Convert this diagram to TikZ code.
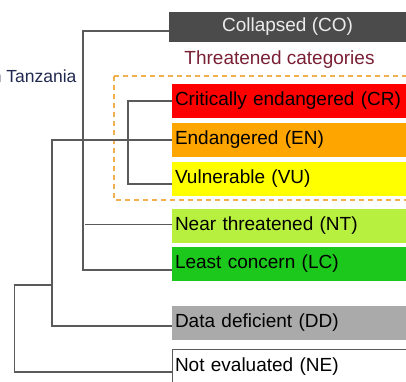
\documentclass[tikz,border=0pt]{standalone}
\usepackage{fontspec}
\setmainfont{Liberation Sans}
\usepackage{xcolor}
\usetikzlibrary{positioning}

\definecolor{cogray}{HTML}{4B4B4B}
\definecolor{crred}{HTML}{FF0000}
\definecolor{enorange}{HTML}{FFA500}
\definecolor{vuyellow}{HTML}{FFFF00}
\definecolor{ntgreen}{HTML}{B8F040}
\definecolor{lcgreen}{HTML}{1CC81C}
\definecolor{ddgray}{HTML}{AAAAAA}
\definecolor{linegray}{HTML}{5A5A5A}
\definecolor{dashorange}{HTML}{F0B050}
\definecolor{threatred}{HTML}{7A2035}
\definecolor{regionblue}{HTML}{202850}

\begin{document}
\begin{tikzpicture}[x=1pt, y=1pt, node distance=39pt]
    \tikzstyle{category} = [rectangle, text width=234pt, inner xsep=3pt, inner ysep=0pt, minimum height=34pt, align=left, font=\fontsize{19pt}{22pt}\selectfont]
    \tikzstyle{collapsed} = [rectangle, fill=cogray, text=black!8, minimum width=237pt, minimum height=30pt, inner sep=0pt, font=\fontsize{19pt}{22pt}\selectfont]
    \tikzstyle{link} = [draw=linegray, line width=1.5pt]
    \useasboundingbox (0,0) rectangle (406,-381);

    % Threatened group frame
    \draw [dashorange, line width=1.4pt, dash pattern=on 5pt off 4pt] (114,-76) rectangle (420,-200);

    % Collapsed and labels
    \node [collapsed] (co) at (287.5,-27) {Collapsed (CO)};
    \node [text=threatred, font=\fontsize{19pt}{22pt}\selectfont] (threat) at (279.5,-60) {Threatened categories};
    \node [anchor=east, text=regionblue, font=\fontsize{17.5pt}{21pt}\selectfont] (region) at (80,-76) {in Tanzania};

    % Red List categories - Vertical
    \node [category, fill=crred] (cr) at (292,-101) {Critically endangered (CR)};
    \node [category, fill=enorange, below of=cr] (en) {Endangered (EN)};
    \node [category, fill=vuyellow, below of=en, node distance=38.5pt] (vu) {Vulnerable (VU)};
    \node [category, fill=ntgreen, below of=vu, node distance=47pt] (nt) {Near threatened (NT)};
    \node [category, fill=lcgreen, below of=nt, node distance=38.5pt] (lc) {Least concern (LC)};
    \node [category, fill=ddgray, below of=lc, node distance=58.5pt] (dd) {Data deficient (DD)};
    \node [category, draw=linegray, line width=1pt, fill=white, below of=dd, node distance=44pt] (ne) {Not evaluated (NE)};

    % Connections
    \coordinate (split) at (52,-285);
    \draw [link] ([yshift=-4pt]co.west) -- ++(-86,0) |- ([yshift=-6pt]lc.west);
    \draw [link] ([yshift=1pt]nt.west) -- ++(-87,0);
    \draw [link] (cr.west) -- ++(-44,0) |- ([yshift=-5.5pt]vu.west);
    \draw [link] (en.west) -- ++(-120,0) |- ([yshift=-3.5pt]dd.west);
    \draw [link] ([yshift=-5.5pt]ne.west) -- ++(-157,0) |- (split);
\end{tikzpicture}
\end{document}
